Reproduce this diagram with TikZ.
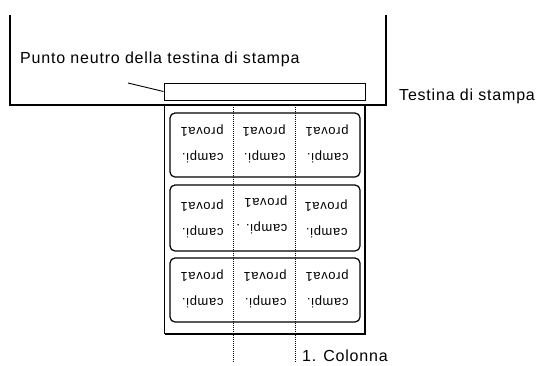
\documentclass[tikz,border=0pt]{standalone}
\usepackage{fontspec}
\setmainfont{Liberation Sans}
\newfontfamily\capfont[LetterSpace=5]{Liberation Sans}
\newfontfamily\lblfont[LetterSpace=5]{Liberation Sans}
\begin{document}
\begin{tikzpicture}[x=1pt,y=-1pt,
  frame/.style={line width=1.1pt},
  caption/.style={inner sep=0pt, font=\capfont\fontsize{16}{18}\selectfont},
  labelbox/.style={draw, line width=1.2pt, rounded corners=5pt, minimum width=190pt, inner sep=0pt},
  lbltext/.style={rotate=180, align=left, inner sep=0pt, font=\lblfont\fontsize{13}{26}\selectfont},
  colline/.style={line width=0.8pt, dash pattern=on 1pt off 1pt}]
\useasboundingbox (0,0) rectangle (544,365);
% frame of printer
\draw[frame] (10,15) -- (10,105) -- (386,105) -- (386,15);
% paper
\draw[line width=1pt] (164,105) -- (164,334);
\draw[line width=2pt] (165,334) -- (365,334) -- (365,105);
% print head
\node[draw, line width=1pt, minimum width=201pt, minimum height=17pt, inner sep=0pt] (head) at (264.5,91.5) {};
\coordinate (leadstart) at (128,83);
\draw[line width=0.9pt] (leadstart) -- (head.west);
% labels
\node[labelbox, minimum height=64pt] (l1) at (265,145) {};
\node[labelbox, minimum height=66pt] (l2) at (265,218) {};
\node[labelbox, minimum height=64pt] (l3) at (265,290) {};
% column lines
\coordinate (c1top) at (233,105);
\coordinate (c1bot) at (233,362);
\coordinate (c2top) at (295,105);
\coordinate (c2bot) at (295,362);
\draw[colline] (c1top) -- (c1bot);
\draw[colline] (c2top) -- (c2bot);
% label texts (upside down)
\node[lbltext] (t11) at (202,144) {campi.\\prova1};
\node[lbltext] (t12) at (264,144) {campi.\\prova1};
\node[lbltext] (t13) at (327,144) {campi.\\prova1};
\node[lbltext] (t21) at (202,219) {campi.\\prova1};
\node[lbltext] (t22) at (262,215) {campi. .\\prova1};
\node[lbltext] (t23) at (326,219) {campi.\\prova1};
\node[lbltext] (t31) at (202,289) {campi.\\prova1};
\node[lbltext] (t32) at (265,289) {campi.\\prova1};
\node[lbltext] (t33) at (327,289) {campi.\\prova1};
% captions
\node[caption, anchor=base west] (cneutral) at (20,63.3) {Punto neutro della testina di stampa};
\node[caption, anchor=base west] (chead) at (399,100) {Testina di stampa};
\node[caption, anchor=base west] (ccol) at (302,361) {1. Colonna};
\end{tikzpicture}
\end{document}
